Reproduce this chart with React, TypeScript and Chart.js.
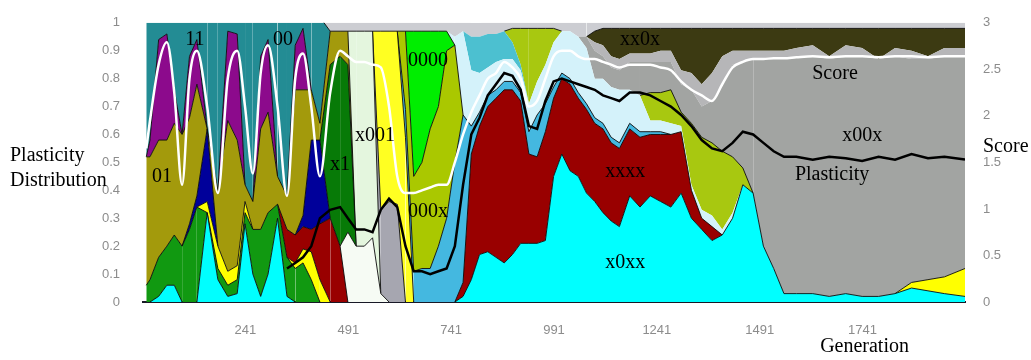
import { useEffect, useRef } from "react";
import { Chart, registerables } from "chart.js";
Chart.register(...registerables);

// Generation sample points (x)
const generations = [
  0, 9, 30, 50, 68, 87, 105, 123, 148, 174,
  198, 221, 240, 259, 278, 296, 319, 342, 362, 381,
  401, 422, 447, 471, 490, 510, 530, 550, 570, 590,
  610, 630, 650, 670, 690, 710, 730, 750, 770, 790,
  810, 830, 850, 870, 890, 910, 930, 950, 970, 990,
  1010, 1030, 1050, 1070, 1090, 1110, 1130, 1150, 1175, 1200,
  1225, 1250, 1275, 1300, 1325, 1350, 1375, 1400, 1425, 1450,
  1475, 1500, 1525, 1550, 1580, 1620, 1660, 1700, 1740, 1780,
  1820, 1860, 1900, 1940, 1990,
];

const xTickValues = [241, 491, 741, 991, 1241, 1491, 1741];
const xTickLabels = ["241", "491", "741", "991", "1241", "1491", "1741"];

// Stacked genotype shares (bottom to top)
const x0xx = [
  0, 0, .02, .06, .06, 0, 0, 0, .32, .08,
  .02, .03, .28, .1, .02, .1, .3, .02, 0, 0,
  0, 0, 0, 0, 0, 0, 0, 0, 0, 0,
  0, 0, 0, 0, 0, 0, 0, 0, .02, .08,
  .17, .18, .16, .14, .17, .21, .21, .21, .22, .45,
  .53, .47, .45, .39, .36, .32, .29, .27, .38, .34,
  .38, .36, .34, .39, .3, .26, .22, .24, .3, .42,
  .39, .2, .12, .03, .03, .03, .02, .03, .02, .02,
  .03, .05, .04, .03, .02,
];
const green = [
  .06, .08, .14, .14, .18, .2, .26, .34, 0, .04,
  .04, .05, .04, .16, .24, .22, .05, .14, .12, .14,
  .08, 0, 0, 0, 0, 0, 0, 0, 0, 0,
  0, 0, 0, 0, 0, 0, 0, 0, 0, 0,
  0, 0, 0, 0, 0, 0, 0, 0, 0, 0,
  0, 0, 0, 0, 0, 0, 0, 0, 0, 0,
  0, 0, 0, 0, 0, 0, 0, 0, 0, 0,
  0, 0, 0, 0, 0, 0, 0, 0, 0, 0,
  0, 0, 0, 0, 0,
];
const yellow = [
  0, 0, 0, 0, 0, 0, 0, 0, .04, .08,
  .05, .05, .04, 0, 0, 0, 0, 0, .02, .05,
  .1, .08, 0, 0, 0, 0, 0, 0, 0, 0,
  0, 0, 0, 0, 0, 0, 0, 0, 0, 0,
  0, 0, 0, 0, 0, 0, 0, 0, 0, 0,
  0, 0, 0, 0, 0, 0, 0, 0, 0, 0,
  0, 0, 0, 0, 0, 0, 0, 0, 0, 0,
  0, 0, 0, 0, 0, 0, 0, 0, 0, 0,
  0, .02, .04, .06, .1,
];
const xxxx = [
  0, 0, 0, 0, 0, 0, 0, 0, 0, 0,
  0, 0, 0, 0, 0, 0, 0, .1, .1, .08,
  .08, .2, .3, .2, 0, 0, 0, 0, 0, 0,
  0, 0, 0, 0, 0, 0, 0, 0, .05, .45,
  .46, .52, .57, .62, .59, .51, .32, .31, .39, .28,
  .27, .31, .28, .3, .28, .3, .28, .28, .24, .25,
  .22, .24, .26, .22, .1, .04, .05, 0, 0, 0,
  0, 0, 0, 0, 0, 0, 0, 0, 0, 0,
  0, 0, 0, 0, 0,
];
const blue = [
  0, 0, 0, 0, 0, 0, .02, .04, .26, 0,
  0, 0, 0, 0, 0, 0, 0, 0, 0, .04,
  .32, .3, 0, 0, 0, 0, 0, 0, 0, 0,
  0, 0, 0, 0, 0, 0, 0, 0, 0, 0,
  0, 0, 0, 0, 0, 0, 0, 0, 0, 0,
  0, 0, 0, 0, 0, 0, 0, 0, 0, 0,
  0, 0, 0, 0, 0, 0, 0, 0, 0, 0,
  0, 0, 0, 0, 0, 0, 0, 0, 0, 0,
  0, 0, 0, 0, 0,
];
const white = [
  0, 0, 0, 0, 0, 0, 0, 0, 0, 0,
  0, 0, 0, 0, 0, 0, 0, 0, 0, 0,
  0, 0, 0, 0, .25, .2, .2, .23, .03, 0,
  0, 0, 0, 0, 0, 0, 0, 0, 0, 0,
  0, 0, 0, 0, 0, 0, 0, 0, 0, 0,
  0, 0, 0, 0, 0, 0, 0, 0, 0, 0,
  0, 0, 0, 0, 0, 0, 0, 0, 0, 0,
  0, 0, 0, 0, 0, 0, 0, 0, 0, 0,
  0, 0, 0, 0, 0,
];
const x1 = [
  0, 0, 0, 0, 0, 0, 0, 0, 0, 0,
  0, 0, 0, 0, 0, 0, 0, 0, 0, 0,
  0, 0, .55, .68, .6, 0, 0, 0, 0, 0,
  0, 0, 0, 0, 0, 0, 0, 0, 0, 0,
  0, 0, 0, 0, 0, 0, 0, 0, 0, 0,
  0, 0, 0, 0, 0, 0, 0, 0, 0, 0,
  0, 0, 0, 0, 0, 0, 0, 0, 0, 0,
  0, 0, 0, 0, 0, 0, 0, 0, 0, 0,
  0, 0, 0, 0, 0,
];
const g01 = [
  .46, .44, .42, .38, .4, .4, .38, .4, 0, .2,
  .54, .45, .06, .1, .36, .36, .1, .12, .52, .45,
  .18, .06, .12, .09, .12, 0, 0, 0, 0, 0,
  0, 0, 0, 0, 0, 0, 0, 0, 0, 0,
  0, 0, 0, 0, 0, 0, 0, 0, 0, 0,
  0, 0, 0, 0, 0, 0, 0, 0, 0, 0,
  0, 0, 0, 0, 0, 0, 0, 0, 0, 0,
  0, 0, 0, 0, 0, 0, 0, 0, 0, 0,
  0, 0, 0, 0, 0,
];
const x001 = [
  0, 0, 0, 0, 0, 0, 0, 0, 0, 0,
  0, 0, 0, 0, 0, 0, 0, 0, 0, 0,
  0, 0, 0, 0, 0, .77, .77, .74, 0, 0,
  0, 0, 0, 0, 0, 0, 0, 0, 0, 0,
  0, 0, 0, 0, 0, 0, 0, 0, 0, 0,
  0, 0, 0, 0, 0, 0, 0, 0, 0, 0,
  0, 0, 0, 0, 0, 0, 0, 0, 0, 0,
  0, 0, 0, 0, 0, 0, 0, 0, 0, 0,
  0, 0, 0, 0, 0,
];
const grayB = [
  0, 0, 0, 0, 0, 0, 0, 0, 0, 0,
  0, 0, 0, 0, 0, 0, 0, 0, 0, 0,
  0, 0, 0, 0, 0, 0, 0, 0, .3, .36,
  .35, 0, 0, 0, 0, 0, 0, 0, 0, 0,
  0, 0, 0, 0, 0, 0, 0, 0, 0, 0,
  0, 0, 0, 0, 0, 0, 0, 0, 0, 0,
  0, 0, 0, 0, 0, 0, 0, 0, 0, 0,
  0, 0, 0, 0, 0, 0, 0, 0, 0, 0,
  0, 0, 0, 0, 0,
];
const yellowB = [
  0, 0, 0, 0, 0, 0, 0, 0, 0, 0,
  0, 0, 0, 0, 0, 0, 0, 0, 0, 0,
  0, 0, 0, 0, 0, 0, 0, 0, .64, .61,
  .62, .59, 0, 0, 0, 0, 0, 0, 0, 0,
  0, 0, 0, 0, 0, 0, 0, 0, 0, 0,
  0, 0, 0, 0, 0, 0, 0, 0, 0, 0,
  0, 0, 0, 0, 0, 0, 0, 0, 0, 0,
  0, 0, 0, 0, 0, 0, 0, 0, 0, 0,
  0, 0, 0, 0, 0,
];
const lightBlue = [
  0, 0, 0, 0, 0, 0, 0, 0, 0, 0,
  0, 0, 0, 0, 0, 0, 0, 0, 0, 0,
  0, 0, 0, 0, 0, 0, 0, 0, 0, 0,
  0, .1, .11, .12, .12, .2, .3, .5, .6, .1,
  .05, .04, .03, .03, .03, .03, .08, .15, .1, .04,
  .02, .02, .02, .02, .02, .02, .02, .02, .02, .02,
  .01, .01, 0, 0, 0, 0, 0, 0, 0, 0,
  0, 0, 0, 0, 0, 0, 0, 0, 0, 0,
  0, 0, 0, 0, 0,
];
const g000x = [
  0, 0, 0, 0, 0, 0, 0, 0, 0, 0,
  0, 0, 0, 0, 0, 0, 0, 0, 0, 0,
  0, 0, 0, 0, 0, 0, 0, 0, 0, 0,
  0, .28, .34, .38, .5, .5, .6, .42, 0, 0,
  0, 0, 0, 0, 0, 0, 0, 0, 0, 0,
  0, 0, 0, 0, 0, 0, 0, 0, 0, 0,
  0, 0, 0, 0, 0, 0, 0, 0, 0, 0,
  0, 0, 0, 0, 0, 0, 0, 0, 0, 0,
  0, 0, 0, 0, 0,
];
const g0000 = [
  0, 0, 0, 0, 0, 0, 0, 0, 0, 0,
  0, 0, 0, 0, 0, 0, 0, 0, 0, 0,
  0, 0, 0, 0, 0, 0, 0, 0, 0, 0,
  0, 0, .52, .47, .35, .27, .07, 0, 0, 0,
  0, 0, 0, 0, 0, 0, 0, 0, 0, 0,
  0, 0, 0, 0, 0, 0, 0, 0, 0, 0,
  0, 0, 0, 0, 0, 0, 0, 0, 0, 0,
  0, 0, 0, 0, 0, 0, 0, 0, 0, 0,
  0, 0, 0, 0, 0,
];
const paleCyan = [
  0, 0, 0, 0, 0, 0, 0, 0, 0, 0,
  0, 0, 0, 0, 0, 0, 0, 0, 0, 0,
  0, 0, 0, 0, 0, 0, 0, 0, 0, 0,
  0, 0, 0, 0, 0, 0, 0, .03, .3, .2,
  .14, .1, .1, .08, .08, .08, .1, .12, .14, .16,
  .15, .17, .2, .2, .14, .16, .18, .19, .12, .13,
  .04, .04, .04, .02, .02, .03, .04, .02, .02, 0,
  0, 0, 0, 0, 0, 0, 0, 0, 0, 0,
  0, 0, 0, 0, 0,
];
const skyBlue = [
  0, 0, 0, 0, 0, 0, 0, 0, 0, 0,
  0, 0, 0, 0, 0, 0, 0, 0, 0, 0,
  0, 0, 0, 0, 0, 0, 0, 0, 0, 0,
  0, 0, 0, 0, 0, 0, 0, 0, 0, .12,
  .13, .12, .1, .1, .06, .02, 0, 0, 0, 0,
  0, 0, 0, 0, 0, 0, 0, 0, 0, 0,
  0, 0, 0, 0, 0, 0, 0, 0, 0, 0,
  0, 0, 0, 0, 0, 0, 0, 0, 0, 0,
  0, 0, 0, 0, 0,
];
const yellowGreen = [
  0, 0, 0, 0, 0, 0, 0, 0, 0, 0,
  0, 0, 0, 0, 0, 0, 0, 0, 0, 0,
  0, 0, 0, 0, 0, 0, 0, 0, 0, 0,
  0, 0, 0, 0, 0, 0, 0, 0, 0, 0,
  0, 0, 0, 0, .05, .13, .27, .19, .13, .05,
  0, 0, 0, 0, 0, 0, 0, 0, 0, 0,
  .1, .1, .12, .05, .22, .26, .26, .28, .2, .06,
  0, 0, 0, 0, 0, 0, 0, 0, 0, 0,
  0, 0, 0, 0, 0,
];
const x00x = [
  0, 0, 0, 0, 0, 0, 0, 0, 0, 0,
  0, 0, 0, 0, 0, 0, 0, 0, 0, 0,
  0, 0, 0, 0, 0, 0, 0, 0, 0, 0,
  0, 0, 0, 0, 0, 0, 0, 0, 0, 0,
  0, 0, 0, 0, 0, 0, 0, 0, 0, 0,
  0, 0, 0, .04, .1, .08, .07, .07, .1, .12,
  .11, .11, .1, .1, .12, .11, .15, .24, .33, .38,
  .48, .67, .75, .84, .85, .85, .85, .85, .86, .85,
  .85, .8, .79, .79, .76,
];
const lightGray = [
  0, 0, 0, 0, 0, 0, 0, 0, 0, 0,
  0, 0, 0, 0, 0, 0, 0, 0, 0, 0,
  0, 0, 0, 0, 0, 0, 0, 0, 0, 0,
  0, 0, 0, 0, 0, 0, 0, 0, 0, 0,
  0, 0, 0, 0, 0, 0, 0, 0, 0, 0,
  0, 0, 0, 0, .03, .04, .04, .04, .03, .03,
  .03, .04, .04, .05, .06, .08, .1, .1, .05, .04,
  .03, .03, .03, .03, .03, .04, .01, .04, .03, 0,
  .03, .03, .01, .03, .03,
];
const g11 = [
  0, .06, .36, .38, .12, 0, .22, .16, 0, 0,
  .32, .38, 0, 0, .26, .26, 0, 0, .16, .22,
  0, 0, 0, 0, 0, 0, 0, 0, 0, 0,
  0, 0, 0, 0, 0, 0, 0, 0, 0, 0,
  0, 0, 0, 0, 0, 0, 0, 0, 0, 0,
  0, 0, 0, 0, 0, 0, 0, 0, 0, 0,
  0, 0, 0, 0, 0, 0, 0, 0, 0, 0,
  0, 0, 0, 0, 0, 0, 0, 0, 0, 0,
  0, 0, 0, 0, 0,
];
const g00 = [
  .5, .44, .08, .06, .26, .42, .14, .08, .4, .62,
  .05, .06, .6, .66, .14, .08, .57, .64, .1, .04,
  .26, .38, 0, 0, 0, 0, 0, 0, 0, 0,
  0, 0, 0, 0, 0, 0, 0, 0, 0, 0,
  0, 0, 0, 0, 0, 0, 0, 0, 0, 0,
  0, 0, 0, 0, 0, 0, 0, 0, 0, 0,
  0, 0, 0, 0, 0, 0, 0, 0, 0, 0,
  0, 0, 0, 0, 0, 0, 0, 0, 0, 0,
  0, 0, 0, 0, 0,
];
const xx0x = [
  0, 0, 0, 0, 0, 0, 0, 0, 0, 0,
  0, 0, 0, 0, 0, 0, 0, 0, 0, 0,
  0, 0, 0, 0, 0, 0, 0, 0, 0, 0,
  0, 0, 0, 0, 0, 0, 0, 0, 0, 0,
  0, 0, 0, 0, 0, 0, 0, 0, 0, 0,
  0, 0, 0, 0, .04, .06, .1, .11, .09, .09,
  .09, .08, .08, .15, .16, .2, .16, .1, .08, .08,
  .08, .08, .08, .08, .07, .06, .1, .06, .07, .11,
  .07, .08, .1, .07, .07,
];
const topBand = [
  0, 0, 0, 0, 0, 0, 0, 0, 0, 0,
  0, 0, 0, 0, 0, 0, 0, 0, 0, 0,
  0, 0, .04, .04, .04, .04, .04, .04, .04, .04,
  .04, .04, .04, .04, .04, .04, .04, .05, .05, .05,
  .05, .05, .05, .04, .03, .03, .03, .03, .03, .03,
  .04, .04, .06, .06, .04, .03, .03, .03, .03, .03,
  .03, .03, .03, .03, .03, .03, .03, .03, .03, .03,
  .03, .03, .03, .03, .03, .03, .03, .03, .03, .03,
  .03, .03, .03, .03, .03,
];

// Lines
const score = [
  1.65, 1.95, 2.55, 2.79, 2.25, 1.26, 2.4, 2.7, 2.1, 1.17,
  2.4, 2.7, 2.1, 1.38, 2.46, 2.76, 2.1, 1.14, 2.4, 2.67,
  2.1, 1.35, 2.25, 2.7, 2.64, 2.58, 2.58, 2.55, 2.52, 2.1,
  1.35, 1.17, 1.17, 1.2, 1.23, 1.26, 1.26, 1.5, 1.8, 2.04,
  2.22, 2.4, 2.46, 2.58, 2.52, 2.4, 2.1, 2.16, 2.4, 2.64,
  2.7, 2.7, 2.64, 2.61, 2.61, 2.58, 2.55, 2.52, 2.55, 2.55,
  2.55, 2.52, 2.49, 2.37, 2.28, 2.22, 2.16, 2.34, 2.52, 2.58,
  2.61, 2.61, 2.62, 2.62, 2.63, 2.64, 2.63, 2.64, 2.64, 2.63,
  2.64, 2.64, 2.63, 2.64, 2.64,
];
const plasticity = [
  null, null, null, null, null, null, null, null, null, null,
  null, null, null, null, null, null, null, .12, .14, .16,
  .2, .3, .33, .34, .3, .26, .26, .25, .33, .37,
  .34, .2, .11, .11, .1, .11, .12, .2, .42, .6,
  .66, .74, .78, .82, .81, .76, .63, .62, .72, .79,
  .8, .79, .78, .77, .76, .74, .73, .72, .75, .75,
  .74, .72, .7, .67, .63, .58, .55, .54, .57, .61,
  .6, .57, .54, .52, .52, .51, .52, .515, .505, .52,
  .51, .53, .515, .52, .51,
];

// Region labels (text, generation, share)
const labelTexts = ["01", "11", "00", "x1", "x001", "0000", "000x", "xxxx", "x0xx", "xx0x", "Score", "x00x", "Plasticity"];
const labelGens = [38, 118, 332, 471, 556, 685, 685, 1164, 1164, 1200, 1674, 1740, 1667];
const labelShares = [0.448, 0.941, 0.941, 0.49, 0.594, 0.865, 0.323, 0.465, 0.139, 0.941, 0.816, 0.594, 0.455];

const areaSeries = [
  { label: "x0xx", values: x0xx, color: "#00ffff", edge: true },
  { label: "green", values: green, color: "#119911", edge: true },
  { label: "yellow", values: yellow, color: "#ffff00", edge: true },
  { label: "xxxx", values: xxxx, color: "#990000", edge: true },
  { label: "blue", values: blue, color: "#00009a", edge: true },
  { label: "white", values: white, color: "#f6fbf4", edge: true },
  { label: "x1", values: x1, color: "#077a07", edge: true },
  { label: "01", values: g01, color: "#a39a0c", edge: true },
  { label: "x001", values: x001, color: "#e4f6de", edge: true },
  { label: "grayB", values: grayB, color: "#a6a6b0", edge: true },
  { label: "yellowB", values: yellowB, color: "#ffff22", edge: true },
  { label: "lightBlue", values: lightBlue, color: "#44b8e0", edge: true },
  { label: "000x", values: g000x, color: "#aac800", edge: true },
  { label: "0000", values: g0000, color: "#00ee00", edge: true },
  { label: "paleCyan", values: paleCyan, color: "#d4f2fa", edge: false },
  { label: "skyBlue", values: skyBlue, color: "#4cc0d0", edge: false },
  { label: "yellowGreen", values: yellowGreen, color: "#a8c810", edge: true },
  { label: "x00x", values: x00x, color: "#a2a4a2", edge: false },
  { label: "lightGray", values: lightGray, color: "#b6b6b8", edge: false },
  { label: "11", values: g11, color: "#8c0a8c", edge: true },
  { label: "00", values: g00, color: "#238c94", edge: true },
  { label: "xx0x", values: xx0x, color: "#3c3a12", edge: true },
  { label: "top", values: topBand, color: "#cccdd2", edge: false },
];

const SERIF = '"Liberation Serif", "Times New Roman", serif';
const SANS = '"Liberation Sans", Arial, sans-serif';

const textPlugin = {
  id: "textPlugin",
  afterDraw(chart: any) {
    const { ctx, scales, chartArea } = chart;
    const xs = scales.x;
    const ys = scales.y;
    ctx.save();
    // x tick labels
    ctx.font = `13px ${SANS}`;
    ctx.fillStyle = "#8c8c8c";
    ctx.textAlign = "center";
    ctx.textBaseline = "middle";
    xTickValues.forEach((v, i) => {
      ctx.fillText(xTickLabels[i], xs.getPixelForValue(v), chartArea.bottom + 28);
    });
    // region labels
    ctx.font = `20px ${SERIF}`;
    ctx.fillStyle = "#000";
    labelTexts.forEach((t, i) => {
      ctx.fillText(t, xs.getPixelForValue(labelGens[i]), ys.getPixelForValue(labelShares[i]));
    });
    // axis titles
    ctx.textAlign = "left";
    ctx.fillText("Plasticity", 10, chartArea.top + 133);
    ctx.fillText("Distribution", 10, chartArea.top + 158);
    ctx.fillText("Score", chartArea.right + 18, chartArea.top + 124);
    ctx.textAlign = "center";
    ctx.fillText("Generation", xs.getPixelForValue(1741) + 2, chartArea.bottom + 45);
    ctx.restore();
  },
};

export default function App() {
  const ref = useRef<HTMLCanvasElement | null>(null);
  useEffect(() => {
    if (!ref.current) return;
    const areaDatasets = areaSeries.map((s, i) => ({
      type: "line" as const,
      label: s.label,
      data: generations.map((g, j) => ({ x: g, y: s.values[j] })),
      backgroundColor: s.color,
      borderColor: s.edge ? "rgba(10,10,10,0.9)" : "rgba(0,0,0,0)",
      borderWidth: s.edge ? 1 : 0,
      fill: i === 0 ? "origin" : "-1",
      pointRadius: 0,
      tension: 0,
      yAxisID: "y",
      order: 1,
      segment: {
        borderColor: (c: any) =>
          s.values[c.p0DataIndex] === 0 && s.values[c.p1DataIndex] === 0 ? "rgba(0,0,0,0)" : undefined,
      },
    }));
    const lineDatasets = [
      {
        type: "line" as const,
        label: "Score",
        data: generations.map((g, j) => ({ x: g, y: score[j] })),
        borderColor: "#ffffff",
        borderWidth: 2.5,
        fill: false,
        pointRadius: 0,
        cubicInterpolationMode: "monotone" as const,
        yAxisID: "y2",
        order: 0,
      },
      {
        type: "line" as const,
        label: "Plasticity",
        data: generations.map((g, j) => ({ x: g, y: plasticity[j] })),
        borderColor: "#000000",
        borderWidth: 2.5,
        fill: false,
        pointRadius: 0,
        tension: 0,
        yAxisID: "yP",
        order: 0,
      },
    ];
    const tickFont = { family: SANS, size: 13 };
    const chart = new Chart(ref.current, {
      type: "line",
      data: { datasets: [...areaDatasets, ...lineDatasets] as any },
      options: {
        animation: false,
        responsive: false,
        devicePixelRatio: 1,
        layout: { padding: { top: 14, bottom: 28, left: 0, right: 0 } },
        plugins: { legend: { display: false }, tooltip: { enabled: false } },
        scales: {
          x: {
            type: "linear",
            min: -8,
            max: 1990,
            grid: { display: false },
            border: { display: true, color: "#181826", width: 2 },
            afterFit: (scale: any) => {
              scale.height = 30;
            },
            ticks: { display: false },
          },
          y: {
            type: "linear",
            position: "left",
            stacked: true,
            min: 0,
            max: 1,
            grid: { display: false },
            border: { display: false },
            afterFit: (scale: any) => {
              scale.width = 143;
            },
            ticks: {
              stepSize: 0.1,
              padding: 15,
              color: "#8c8c8c",
              font: tickFont,
              callback: (v: any) => String(Math.round(Number(v) * 10) / 10),
            },
          },
          yP: {
            type: "linear",
            display: false,
            min: 0,
            max: 1,
          },
          y2: {
            type: "linear",
            position: "right",
            min: 0,
            max: 3,
            grid: { display: false },
            border: { display: false },
            afterFit: (scale: any) => {
              scale.width = 66;
            },
            ticks: {
              stepSize: 0.5,
              padding: 10,
              color: "#8c8c8c",
              font: tickFont,
              callback: (v: any) => String(v),
            },
          },
        },
      },
      plugins: [textPlugin],
    });
    return () => chart.destroy();
  }, []);
  return (
    <div style={{ position: "absolute", left: 0, top: 0, width: 1031, height: 360, background: "#fff" }}>
      <canvas ref={ref} width={1031} height={360} style={{ display: "block" }} />
    </div>
  );
}
